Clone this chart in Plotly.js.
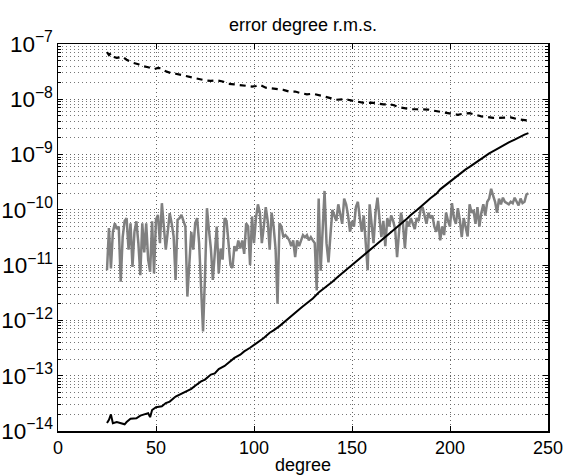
<!DOCTYPE html>
<html>
<head>
<meta charset="utf-8">
<script src="https://cdn.plot.ly/plotly-3.0.1.min.js"></script>
<style>html,body{margin:0;padding:0;background:#fff;}#chart{width:567px;height:475px;}</style>
</head>
<body>
<div id="chart"></div>
<script>
// Dashed black series (degree, value)
var dashDeg = [25,26,27,28,30,33,35,38,41,43,46,49,51,53,55,58,60,63,66,69,72,75,78,81,84,87,90,93,96,99,101,103,106,109,112,115,118,121,124,127,130,133,136,139,142,145,148,151,154,157,160,163,166,169,171,174,177,180,183,186,189,192,195,198,201,204,207,210,213,216,219,222,225,228,231,234,237,240];
var dashVal = [7.1e-8,6.3e-8,6.8e-8,5.9e-8,5.6e-8,5.9e-8,5.2e-8,4.6e-8,4.3e-8,4.0e-8,3.8e-8,3.5e-8,3.7e-8,3.6e-8,3.2e-8,2.95e-8,2.9e-8,2.75e-8,2.6e-8,2.45e-8,2.3e-8,2.2e-8,2.15e-8,2.2e-8,2.1e-8,1.9e-8,1.86e-8,1.82e-8,1.78e-8,1.7e-8,1.74e-8,1.82e-8,1.62e-8,1.58e-8,1.5e-8,1.48e-8,1.38e-8,1.38e-8,1.29e-8,1.23e-8,1.26e-8,1.17e-8,1.12e-8,1.05e-8,9.8e-9,1.0e-8,9.8e-9,9.3e-9,8.9e-9,8.5e-9,8.7e-9,8.3e-9,8.1e-9,8.1e-9,7.9e-9,7.2e-9,6.9e-9,6.6e-9,6.6e-9,6.5e-9,6.5e-9,6.2e-9,5.9e-9,5.75e-9,5.4e-9,5.25e-9,5.5e-9,5.6e-9,5.25e-9,4.9e-9,4.8e-9,4.6e-9,4.6e-9,4.6e-9,4.7e-9,4.4e-9,4.3e-9,4.1e-9];

// Solid black series
var solidDeg = [25,26,27,28,30,32,34,35,37,40,42,44,46,47,48,50,53,55,57,60,63,65,68,70,73,75,78,80,82,85,88,90,93,95,98,100,103,105,108,110,113,115,118,120,123,125,128,130,133,135,138,140,143,145,148,150,153,155,158,160,163,165,168,170,173,175,178,180,183,185,188,190,193,195,198,200,203,205,208,210,213,215,218,220,223,225,228,230,233,235,237,238,240];
var solidVal = [1.4e-14,1.6e-14,2.0e-14,1.38e-14,1.45e-14,1.4e-14,1.32e-14,1.45e-14,1.66e-14,1.7e-14,1.9e-14,2.0e-14,2.1e-14,1.78e-14,2.4e-14,2.7e-14,2.8e-14,3.2e-14,3.4e-14,4.2e-14,4.8e-14,5.2e-14,5.8e-14,6.6e-14,7.9e-14,8.5e-14,1.05e-13,1.1e-13,1.32e-13,1.5e-13,1.8e-13,2.1e-13,2.4e-13,2.75e-13,3.2e-13,3.6e-13,4.4e-13,4.8e-13,6.0e-13,6.6e-13,7.9e-13,9.1e-13,1.12e-12,1.32e-12,1.58e-12,1.8e-12,2.2e-12,2.5e-12,3.2e-12,3.6e-12,4.4e-12,5.0e-12,6.2e-12,7.1e-12,8.7e-12,1.0e-11,1.23e-11,1.4e-11,1.75e-11,2.0e-11,2.45e-11,2.8e-11,3.4e-11,4.0e-11,4.9e-11,5.6e-11,6.9e-11,8.1e-11,9.8e-11,1.15e-10,1.4e-10,1.62e-10,1.95e-10,2.35e-10,2.85e-10,3.3e-10,4.0e-10,4.5e-10,5.4e-10,6.0e-10,7.1e-10,8.1e-10,9.5e-10,1.05e-9,1.2e-9,1.32e-9,1.5e-9,1.66e-9,1.86e-9,2.04e-9,2.2e-9,2.3e-9,2.45e-9];

// Gray noisy series, degrees 25..240 (one value per degree)
var grayStart = 25;
var grayVal = [
8.1e-12,4.7e-11,8.7e-12,4.0e-11,5.7e-11,4.5e-11,5.0e-11,5.0e-12,3.2e-11,6.3e-11,
7.1e-11,1.9e-11,5.7e-11,9.3e-12,4.0e-11,6.2e-11,2.5e-11,6.6e-12,5.7e-11,1.7e-11,
5.7e-11,1.26e-11,7.6e-12,6.2e-11,7.1e-12,6.6e-11,8.1e-11,2.5e-11,1.32e-10,5.0e-11,
1.9e-11,4.0e-11,8.7e-11,5.7e-11,3.3e-11,5.4e-12,6.6e-11,7.1e-11,8.1e-11,6.3e-11,
5.0e-11,2.7e-12,1.4e-11,4.0e-11,1.9e-11,5.7e-11,7.1e-11,2.5e-11,4.0e-12,6.3e-13,
6.3e-12,1.07e-10,4.4e-11,2.0e-11,5.4e-12,1.9e-11,5.0e-11,7.1e-12,2.0e-11,1.26e-11,
7.1e-11,6.3e-11,2.5e-11,1.0e-11,8.9e-12,2.2e-11,1.8e-11,2.8e-11,2.0e-11,2.8e-11,
1.6e-11,5.7e-11,5.0e-11,1.0e-11,7.6e-11,2.5e-11,7.1e-11,1.26e-10,8.9e-11,2.5e-11,
5.0e-11,1.12e-10,6.3e-11,1.9e-11,8.9e-11,5.0e-11,2.0e-11,2.0e-12,5.7e-11,5.0e-11,
3.2e-11,3.5e-11,3.2e-11,2.8e-11,2.2e-11,2.8e-11,1.4e-11,2.8e-11,2.2e-11,2.8e-11,
3.5e-11,3.2e-11,3.5e-11,2.8e-11,3.2e-11,2.8e-11,2.5e-11,3.5e-12,1.6e-10,7.9e-12,
5.0e-11,2.2e-10,2.5e-11,1.12e-11,3.5e-11,1.0e-10,7.9e-11,6.3e-11,1.26e-10,8.9e-11,
5.6e-11,1.6e-10,1.26e-10,7.9e-11,4.0e-11,6.3e-11,5.0e-11,1.12e-10,1.4e-10,7.1e-11,
4.0e-11,7.9e-11,2.8e-11,8.1e-12,1.26e-10,5.0e-11,2.5e-11,8.9e-11,1.66e-10,7.1e-11,
3.2e-11,6.3e-11,2.2e-11,7.1e-11,5.0e-11,7.9e-11,6.3e-11,4.5e-11,1.4e-11,4.0e-11,
8.9e-11,5.6e-11,2.0e-11,6.3e-11,5.0e-11,7.1e-11,5.6e-11,4.5e-11,7.1e-11,6.3e-11,
1.0e-10,1.12e-10,7.9e-11,5.6e-11,8.9e-11,7.1e-11,7.9e-11,5.0e-11,4.0e-11,6.3e-11,
2.8e-11,5.0e-11,3.5e-11,8.9e-11,6.3e-11,5.0e-11,1.32e-10,7.1e-11,5.6e-11,1.07e-10,
6.6e-11,3.2e-11,7.1e-11,4.5e-11,3.3e-11,1.26e-10,8.9e-11,1.0e-10,5.6e-11,1.12e-10,
5.0e-11,8.9e-11,1.26e-10,7.9e-11,1.4e-10,1.6e-10,2.4e-10,1.8e-10,1.4e-10,8.9e-11,
1.6e-10,1.26e-10,1.66e-10,1.4e-10,1.32e-10,1.26e-10,1.4e-10,1.32e-10,1.66e-10,1.4e-10,
1.2e-10,1.6e-10,1.32e-10,1.4e-10,1.9e-10,2.0e-10];
var grayDeg = grayVal.map(function(v, i){ return grayStart + i; });

var xTicks = [0, 50, 100, 150, 200, 250];
var titleText = 'error degree r.m.s.';
var xTitle = 'degree';

var FONT = 'Liberation Sans, Arial, Helvetica, sans-serif';
var GRID = '1px,3px';

var traces = [
  {x: grayDeg, y: grayVal, type: 'scatter', mode: 'lines',
   line: {color: '#808080', width: 2.5}, hoverinfo: 'skip'},
  {x: solidDeg, y: solidVal, type: 'scatter', mode: 'lines',
   line: {color: '#000000', width: 2}, hoverinfo: 'skip'},
  {x: dashDeg, y: dashVal, type: 'scatter', mode: 'lines',
   line: {color: '#000000', width: 2.2, dash: '6px,5px'}, hoverinfo: 'skip'}
];

var layout = {
  width: 567, height: 475,
  margin: {l: 58, r: 19, t: 44, b: 44, pad: 0},
  paper_bgcolor: '#ffffff', plot_bgcolor: '#ffffff',
  showlegend: false,
  font: {family: FONT, color: '#000', size: 16},
  title: {text: titleText, font: {family: FONT, size: 18, color: '#000'},
          x: 0.5344, xanchor: 'center', y: 0.949, yanchor: 'middle'},
  xaxis: {
    range: [0, 250], tickvals: xTicks, ticktext: xTicks.map(String),
    ticks: 'inside', ticklen: 5, tickcolor: '#000', tickwidth: 1,
    showline: true, linecolor: '#000', linewidth: 1.5, mirror: 'ticks',
    showgrid: true, gridcolor: '#666666', griddash: GRID, gridwidth: 1,
    zeroline: false,
    tickfont: {family: FONT, size: 18, color: '#000'},
    title: {text: xTitle, font: {family: FONT, size: 18, color: '#000'}, standoff: 1}
  },
  yaxis: {
    type: 'log', range: [-14, -7], dtick: 1, exponentformat: 'power',
    ticks: 'inside', ticklen: 5, tickcolor: '#000', tickwidth: 1,
    showline: true, linecolor: '#000', linewidth: 1.5, mirror: 'ticks',
    showgrid: true, gridcolor: '#666666', griddash: GRID, gridwidth: 1,
    zeroline: false,
    tickfont: {family: FONT, size: 18, color: '#000'},
    minor: {dtick: 'D1', ticks: 'inside', ticklen: 3, tickcolor: '#000',
            showgrid: true, gridcolor: '#777777', griddash: GRID, gridwidth: 1}
  }
};

Plotly.newPlot('chart', traces, layout, {staticPlot: true, displayModeBar: false});
</script>
</body>
</html>
